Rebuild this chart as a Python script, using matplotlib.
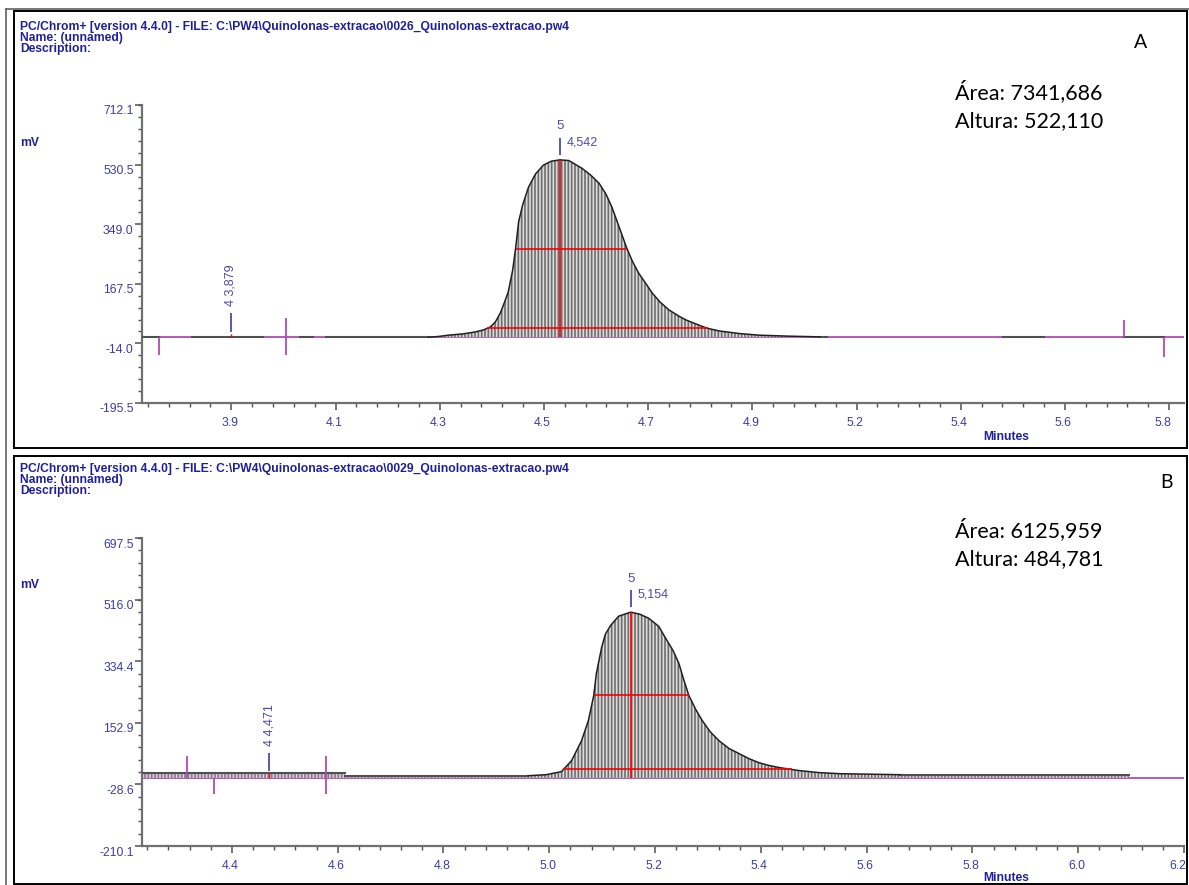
import numpy as np
import matplotlib.pyplot as plt
import matplotlib.transforms as mtransforms
from matplotlib.lines import Line2D
from matplotlib.ticker import AutoMinorLocator

W, H = 1189, 885

# ---------------- panel A ----------------
a_header = r"PC/Chrom+ [version 4.4.0] - FILE: C:\PW4\Quinolonas-extracao\0026_Quinolonas-extracao.pw4"
a_xlim = (3.70, 5.80)
a_ylim = (-195.5, 712.1)
a_xticks = [3.88, 4.09, 4.30, 4.51, 4.72, 4.93, 5.14, 5.35, 5.56, 5.77]
a_xlabels = ["3.9", "4.1", "4.3", "4.5", "4.7", "4.9", "5.2", "5.4", "5.6", "5.8"]
a_yticks = [-195.5, -14.0, 167.5, 349.0, 530.5, 712.1]
a_base = 5
a_x = [4.277, 4.297, 4.317, 4.347, 4.372, 4.388, 4.402, 4.412, 4.422, 4.430,
       4.438, 4.447, 4.453, 4.459, 4.467, 4.479, 4.493, 4.509, 4.525, 4.542,
       4.560, 4.586, 4.604, 4.621, 4.635, 4.647, 4.661, 4.677, 4.689, 4.701,
       4.716, 4.728, 4.744, 4.762, 4.782, 4.797, 4.817, 4.837, 4.863, 4.904,
       4.944, 5.005, 5.066]
a_y = [5, 7, 11, 15, 21, 27, 36, 51, 78, 109,
       142, 209, 276, 356, 407, 462, 502, 529, 541, 545,
       543, 520, 499, 474, 441, 401, 343, 276, 234, 200,
       167, 140, 112, 88, 69, 57, 45, 33, 24, 16,
       11, 8, 6]
# dark trace pieces (start, end, level)
a_flat = [(3.70, 3.734, 6), (3.801, 3.943, 6), (4.018, 4.044, 6), (4.070, 4.277, 6),
          (5.066, 5.080, 6), (5.436, 5.517, 6), (5.679, 5.760, 6)]
# integration markers (x, y0, y1)
a_marks = [(3.734, 5, -49), (3.991, 63, -49), (5.679, 57, 5), (5.760, 5, -55)]
# peak labels (rt, y0, y1, number, text)
a_minor_peak = (3.879, 21, 78, "4 3,879")
a_major_peak = (4.542, 560, 612, "5", "4,542")
a_area = "Área: 7341,686"
a_height = "Altura: 522,110"

# ---------------- panel B ----------------
b_header = r"PC/Chrom+ [version 4.4.0] - FILE: C:\PW4\Quinolonas-extracao\0029_Quinolonas-extracao.pw4"
b_xlim = (4.23, 6.20)
b_ylim = (-210.1, 697.5)
b_xticks = [4.4, 4.6, 4.8, 5.0, 5.2, 5.4, 5.6, 5.8, 6.0, 6.2]
b_xlabels = ["4.4", "4.6", "4.8", "5.0", "5.2", "5.4", "5.6", "5.8", "6.0", "6.2"]
b_yticks = [-210.1, -28.6, 152.9, 334.4, 516.0, 697.5]
b_base = -9
b_x = [4.960, 4.994, 5.023, 5.042, 5.061, 5.074, 5.084, 5.089, 5.099, 5.106,
       5.116, 5.131, 5.154, 5.171, 5.188, 5.207, 5.220, 5.234, 5.245, 5.254,
       5.264, 5.277, 5.289, 5.304, 5.321, 5.340, 5.359, 5.378, 5.397, 5.416,
       5.435, 5.473, 5.511, 5.549, 5.663]
b_y = [-3, 0, 9, 41, 100, 160, 233, 298, 375, 414,
       440, 467, 479, 473, 461, 437, 402, 366, 328, 281,
       233, 192, 160, 127, 100, 77, 62, 47, 35, 27,
       21, 12, 6, 3, 0]
b_flat = [(4.23, 4.614, 4), (4.614, 4.960, -3), (5.663, 6.096, -1)]
b_marks = [(4.316, -9, 56), (4.366, -9, -56), (4.578, 56, -56)]
b_minor_peak = (4.471, 12, 65, "4 4,471")
b_major_peak = (5.154, 494, 544, "5", "5,154")
b_area = "Área: 6125,959"
b_height = "Altura: 484,781"

HEAD = "#1f1f99"
TICKC = "#3c3cae"
MAG = "#b24ab2"
BLUE = "#4a4ab4"

plt.rcParams["hatch.linewidth"] = 1.2

fig = plt.figure(figsize=(W / 100, H / 100), dpi=100)


def fx(px):
    return px / W


def fy(py):
    return 1 - py / H


def draw_panel(top, bottom, xlim, ylim, xticks, xlabels, yticks, base,
               px, py, flat, marks, minor_peak, major_peak):
    ax = fig.add_axes([fx(142), fy(bottom), fx(1184) - fx(142), fy(top) - fy(bottom)])
    ax.set_xlim(*xlim)
    ax.set_ylim(*ylim)
    for s in ("top", "right"):
        ax.spines[s].set_visible(False)
    for s in ("left", "bottom"):
        ax.spines[s].set_color("#707070")
        ax.spines[s].set_linewidth(1.6)

    ax.set_xticks(xticks)
    ax.set_xticklabels(xlabels)
    ax.set_yticks(yticks)
    ax.set_yticklabels([f"{v:.1f}" for v in yticks])
    ax.xaxis.set_minor_locator(AutoMinorLocator(5))
    ax.yaxis.set_minor_locator(AutoMinorLocator(5))
    ax.tick_params(which="major", length=5, width=1.1, color="#505050",
                   labelcolor=TICKC, labelsize=8.8)
    ax.tick_params(which="minor", length=3, width=1.0, color="#505050")
    ax.tick_params(axis="y", pad=1)
    ax.tick_params(axis="x", pad=5)
    for lab in ax.get_xticklabels() + ax.get_yticklabels():
        lab.set_fontfamily("Liberation Sans")
    # labels sit a little below / left of their ticks, as in the original software
    off_y = mtransforms.ScaledTranslation(0, -0.05, fig.dpi_scale_trans)
    for t in ax.yaxis.get_major_ticks():
        t.label1.set_transform(t.label1.get_transform() + off_y)
    xt = ax.xaxis.get_major_ticks()
    for k, t in enumerate(xt):
        dx = -0.06 if k == len(xt) - 1 else -0.015
        t.label1.set_transform(t.label1.get_transform()
                               + mtransforms.ScaledTranslation(dx, 0, fig.dpi_scale_trans))

    # baseline
    ax.axhline(base, color=MAG, lw=1.3, zorder=2)

    # flat pieces of the trace, with hatched band to baseline
    for x0, x1, lvl in flat:
        ax.fill_between([x0, x1], [base, base], [lvl, lvl], facecolor="#e6c6e6",
                        edgecolor="#808080", hatch="|||||", linewidth=0, zorder=2)
        ax.plot([x0, x1], [lvl, lvl], color="#505050", lw=1.5, zorder=3)

    # peak
    ax.fill_between(px, base, py, facecolor="#dcdcdc", edgecolor="#6e6e6e",
                    hatch="|||||", linewidth=0, zorder=2)
    ax.plot(px, py, color="#202020", lw=1.1, zorder=4)

    # red peak lines: apex, half height, 5 % height
    x = np.asarray(px, float)
    y = np.asarray(py, float)
    i = int(np.argmax(y))
    ax.vlines(x[i], base, y[i], color="red", lw=1.2, zorder=5)
    for frac in (0.5, 0.05):
        lvl = base + frac * (y[i] - base)
        xl = np.interp(lvl, y[:i + 1], x[:i + 1])
        xr = np.interp(lvl, y[i:][::-1], x[i:][::-1])
        ax.hlines(lvl, xl, xr, color="red", lw=1.2, zorder=5)

    # integration markers
    for xm, y0, y1 in marks:
        ax.vlines(xm, y0, y1, color=MAG, lw=1.3, zorder=5)

    # minor peak label
    rt, y0, y1, txt = minor_peak
    ax.vlines(rt, y0, y1, color=BLUE, lw=1.3, zorder=5)
    ax.vlines(rt, base, flat[0][2] if rt < flat[0][1] else base + 10, color="red", lw=1.0, zorder=5)
    ax.annotate(txt, (rt, y1), xytext=(0, 5), textcoords="offset points",
                rotation=90, ha="center", va="bottom", color=BLUE,
                fontsize=9, family="Liberation Sans")

    # main peak label
    rt, y0, y1, num, txt = major_peak
    ax.vlines(rt, y0, y1, color=BLUE, lw=1.3, zorder=5)
    ax.annotate(num, (rt, y1), xytext=(0, 4), textcoords="offset points",
                ha="center", va="bottom", color=BLUE, fontsize=9.5,
                family="Liberation Sans")
    ax.annotate(txt, (rt, y1), xytext=(5, 1), textcoords="offset points",
                ha="left", va="top", color=BLUE, fontsize=9,
                family="Liberation Sans")
    return ax


def draw_text(y0, header, mv_y, minutes_y, letter, letter_x, letter_y, area, height, area_y):
    bold = dict(color=HEAD, fontsize=8.7, fontweight="bold", family="Liberation Sans",
                va="center", ha="left")
    fig.text(fx(20), fy(y0), header, **bold)
    fig.text(fx(20), fy(y0 + 11), "Name: (unnamed)", **bold)
    fig.text(fx(20), fy(y0 + 22), "Description:", **bold)
    fig.text(fx(20), fy(mv_y), "mV", **bold)
    fig.text(fx(1006), fy(minutes_y), "Minutes",
             **{**bold, "ha": "center"})
    fig.text(fx(letter_x), fy(letter_y), letter, fontsize=14, family="Lato",
             ha="center", va="center", color="black")
    fig.text(fx(955), fy(area_y), area, fontsize=15.5, family="Lato",
             ha="left", va="center", color="black")
    fig.text(fx(955), fy(area_y + 29), height, fontsize=15.5, family="Lato",
             ha="left", va="center", color="black")


draw_panel(105, 403, a_xlim, a_ylim, a_xticks, a_xlabels, a_yticks, a_base,
           a_x, a_y, a_flat, a_marks, a_minor_peak, a_major_peak)
draw_panel(538, 846, b_xlim, b_ylim, b_xticks, b_xlabels, b_yticks, b_base,
           b_x, b_y, b_flat, b_marks, b_minor_peak, b_major_peak)

draw_text(27, a_header, 143, 437, "A", 1141, 43, a_area, a_height, 92)
draw_text(469, b_header, 585, 878, "B", 1166, 483, b_area, b_height, 530)

# frames
for top, bottom in ((11, 448), (456, 884)):
    fig.add_artist(plt.Rectangle((fx(14), fy(bottom)), fx(1187) - fx(14), fy(top) - fy(bottom),
                                 transform=fig.transFigure, fill=False, ec="black", lw=1.4))
fig.add_artist(Line2D([fx(5.5), fx(5.5)], [0, fy(9)], transform=fig.transFigure,
                      color="#606060", lw=1.2))
fig.add_artist(Line2D([fx(5.5), 1], [fy(9), fy(9)], transform=fig.transFigure,
                      color="#606060", lw=1.2))

fig.savefig("out.png", dpi=100)
